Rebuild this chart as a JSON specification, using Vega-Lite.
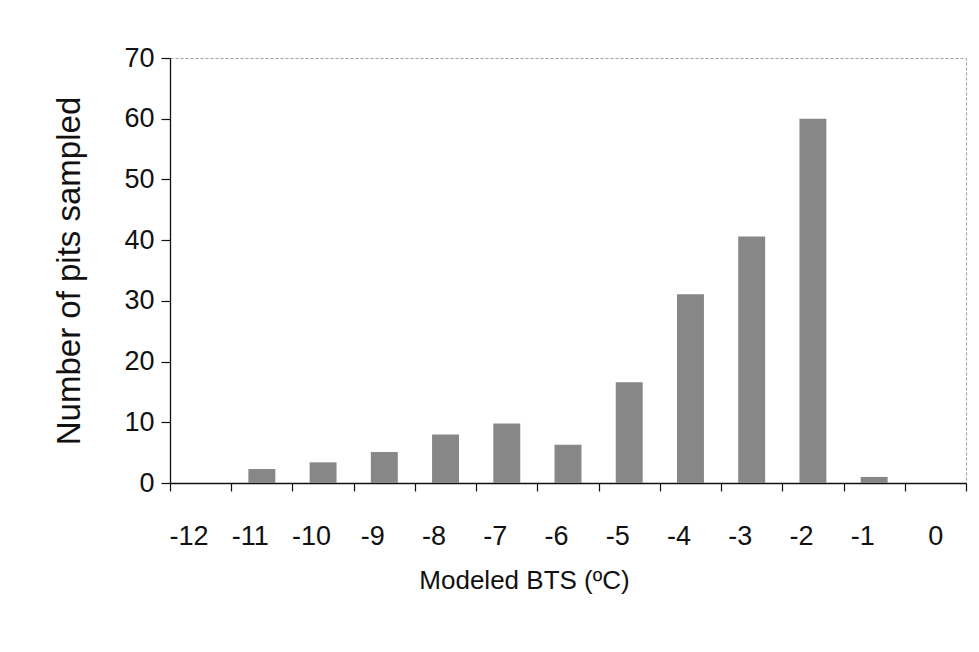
{
  "$schema": "https://vega.github.io/schema/vega-lite/v6.json",
  "width": 796,
  "height": 425,
  "autosize": "none",
  "padding": {"left": 170, "top": 58, "right": 13, "bottom": 169},
  "background": "white",
  "data": {
    "values": [
      {"bts": "-12", "pits": 0},
      {"bts": "-11", "pits": 2.3},
      {"bts": "-10", "pits": 3.4},
      {"bts": "-9", "pits": 5.1},
      {"bts": "-8", "pits": 8.0},
      {"bts": "-7", "pits": 9.8},
      {"bts": "-6", "pits": 6.3},
      {"bts": "-5", "pits": 16.6},
      {"bts": "-4", "pits": 31.1},
      {"bts": "-3", "pits": 40.6},
      {"bts": "-2", "pits": 60},
      {"bts": "-1", "pits": 1},
      {"bts": "0", "pits": 0}
    ]
  },
  "mark": {"type": "bar", "color": "#878787", "width": {"band": 0.44}},
  "encoding": {
    "x": {
      "field": "bts",
      "type": "ordinal",
      "sort": ["-12", "-11", "-10", "-9", "-8", "-7", "-6", "-5", "-4", "-3", "-2", "-1", "0"],
      "scale": {"paddingInner": 0, "paddingOuter": 0},
      "axis": {
        "title": "Modeled BTS (ºC)",
        "labelAngle": 0,
        "tickBand": "extent",
        "tickSize": 8,
        "labelFontSize": 27,
        "labelPadding": 32,
        "labelOffset": {"expr": "datum.value == '0' ? 0 : -12"},
        "titleFontSize": 26,
        "titlePadding": 18,
        "titleX": 354
      }
    },
    "y": {
      "field": "pits",
      "type": "quantitative",
      "scale": {"domain": [0, 70], "nice": false},
      "axis": {
        "title": "Number of pits sampled",
        "values": [0, 10, 20, 30, 40, 50, 60, 70],
        "tickSize": 9,
        "labelFontSize": 27,
        "labelPadding": 7,
        "titleFontSize": 33,
        "titlePadding": 37,
        "grid": false
      }
    }
  },
  "config": {
    "font": "Liberation Sans",
    "view": {"stroke": "#a0a0a0", "strokeDash": [3, 2], "strokeWidth": 1},
    "axis": {
      "domainColor": "#111",
      "domainWidth": 1.3,
      "tickColor": "#111",
      "tickWidth": 1.2,
      "labelFont": "Liberation Sans",
      "labelColor": "#111",
      "titleFont": "Liberation Sans",
      "titleFontWeight": "normal",
      "titleColor": "#111"
    }
  }
}
